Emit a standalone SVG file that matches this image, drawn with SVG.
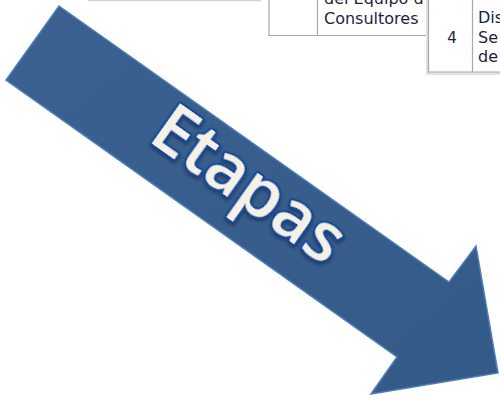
<svg xmlns="http://www.w3.org/2000/svg" width="500" height="395" viewBox="0 0 500 395">
  <defs>
    <style>
      .cell { fill: #ffffff; stroke: none; }
      .border { stroke: #a8a8a8; stroke-width: 1.2; fill: none; }
      .tbl { font-family: "DejaVu Sans", Verdana, sans-serif; font-size: 16px; fill: #1e1e40; }
      .lbl { font-family: "Open Sans", "Noto Sans", sans-serif; font-size: 68px; font-weight: 600; fill: #f5f1e6; stroke: #0d4a9c; stroke-width: 4; paint-order: stroke; stroke-linejoin: round; }
    </style>
    <linearGradient id="arrowFill" x1="0" y1="0" x2="1" y2="1">
      <stop offset="0" stop-color="#3a6190"/>
      <stop offset="1" stop-color="#345a88"/>
    </linearGradient>
    <filter id="shadow" x="-10%" y="-10%" width="130%" height="130%">
      <feDropShadow dx="1.2" dy="1.8" stdDeviation="1.5" flood-color="#0a1f3d" flood-opacity="0.6"/>
    </filter>
  </defs>

  <rect x="0" y="0" width="500" height="395" fill="#ffffff"/>

  <g id="table1">
    <line x1="88" y1="0.5" x2="261" y2="0.5" stroke="#d4d4d4" stroke-width="1.5"/>
  </g>

  <g id="table2">
    <rect class="cell" x="269" y="0" width="160" height="36"/>
    <path class="border" d="M269,0 V35.5 H428 M317.5,0 V35.5"/>
    <text class="tbl" x="324" y="4">del Equipo d</text>
    <text class="tbl" x="324" y="24">Consultores</text>
  </g>

  <g id="table3">
    <rect x="426" y="0" width="74" height="75" fill="#e2e2e2"/>
    <rect class="cell" x="428.5" y="0" width="71.5" height="72"/>
    <path class="border" d="M428.5,0 V72 H500 M472.5,0 V72"/>
    <text class="tbl" x="478" y="23">Dis</text>
    <text class="tbl" x="452" y="43" text-anchor="middle" style="font-size:15px">4</text>
    <text class="tbl" x="478" y="43">Se</text>
    <text class="tbl" x="478" y="62">de</text>
  </g>

  <g id="arrow">
    <polygon points="59,6 449,282 476,246 498,373 371,394 397,357 6,80" fill="url(#arrowFill)" stroke="#4f7fba" stroke-width="1.5" stroke-linejoin="miter"/>
    <text class="lbl" filter="url(#shadow)" transform="translate(236,203) rotate(35.3)" text-anchor="middle">Etapas</text>
  </g>
</svg>
